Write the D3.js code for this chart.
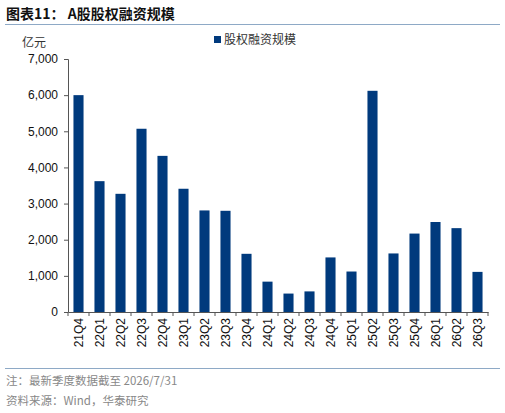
<!DOCTYPE html>
<html><head><meta charset="utf-8">
<script src="https://cdn.jsdelivr.net/npm/d3@7.9.0/dist/d3.min.js"></script>
<style>body{margin:0;background:#fff}svg{display:block}</style>
</head><body><svg id="c" width="505" height="413"></svg>
<script>
const quarters = ["21Q4","22Q1","22Q2","22Q3","22Q4","23Q1","23Q2","23Q3","23Q4","24Q1","24Q2","24Q3","24Q4","25Q1","25Q2","25Q3","25Q4","26Q1","26Q2","26Q3"];
const financing = [6000,3620,3270,5070,4320,3410,2810,2800,1610,840,510,570,1510,1120,6120,1620,2170,2490,2320,1110];
const yTicks = [0,1000,2000,3000,4000,5000,6000,7000];

const svg = d3.select("#c");
const font = "Arial, 'Liberation Sans', 'Noto Sans CJK SC', sans-serif";
const cjk = "'Noto Sans CJK SC', sans-serif";
const blue = "#003a7d";

// title
svg.append("text").attr("x", 6).attr("y", 19).attr("font-family", cjk)
  .attr("font-size", 14).attr("font-weight", "bold").attr("fill", "#111")
  .text("图表11：  A股股权融资规模");
svg.append("line").attr("x1", 5).attr("x2", 500).attr("y1", 24.5).attr("y2", 24.5)
  .attr("stroke", "#8ea9c6").attr("stroke-width", 1);

const x = d3.scaleBand().domain(quarters).range([68, 488]).paddingInner(0.52).paddingOuter(0.26);
const y = d3.scaleLinear().domain([0, 7000]).range([312, 59]);

svg.selectAll("rect.bar").data(financing).join("rect").attr("class", "bar")
  .attr("x", (d, i) => x(quarters[i])).attr("width", x.bandwidth())
  .attr("y", d => y(d)).attr("height", d => y(0) - y(d)).attr("fill", blue);

// y axis
const ya = svg.append("g").attr("transform", "translate(68,0)")
  .call(d3.axisLeft(y).tickValues(yTicks).tickSize(4).tickFormat(d3.format(",")));
ya.selectAll("text").attr("font-family", font).attr("font-size", 12).attr("fill", "#111").attr("dx", -3);
ya.select(".domain").attr("stroke", "#555").attr("d", "M-4,59.5H0.5V312.5");
ya.selectAll(".tick line").attr("stroke", "#555");

// x axis
const xa = svg.append("g").attr("transform", "translate(0,312)")
  .call(d3.axisBottom(x).tickSize(0));
xa.select(".domain").attr("stroke", "#555");
xa.selectAll(".tick").each(function(d, i) {
  d3.select(this).select("text")
    .attr("font-family", font).attr("font-size", 12).attr("fill", "#111")
    .attr("transform", "rotate(-90)").attr("text-anchor", "end")
    .attr("x", -6).attr("y", 0).attr("dy", "0.35em");
});
// tick marks between bands
const edges = quarters.map(q => x(q) - x.step() * x.paddingInner() / 2).concat([488]);
xa.selectAll("line.sep").data(edges).join("line").attr("class", "sep")
  .attr("x1", d => d).attr("x2", d => d).attr("y1", 0).attr("y2", 4).attr("stroke", "#555");

svg.append("text").attr("x", 22).attr("y", 47).attr("font-family", cjk)
  .attr("font-size", 12).attr("fill", "#333").text("亿元");

// legend
svg.append("rect").attr("x", 214).attr("y", 36).attr("width", 7).attr("height", 7).attr("fill", blue);
svg.append("text").attr("x", 224).attr("y", 44).attr("font-family", cjk)
  .attr("font-size", 12).attr("fill", "#333").text("股权融资规模");

// footer
svg.append("line").attr("x1", 5).attr("x2", 500).attr("y1", 368.5).attr("y2", 368.5)
  .attr("stroke", "#8ea9c6");
svg.append("text").attr("x", 6).attr("y", 385).attr("font-family", cjk)
  .attr("font-size", 11.5).attr("fill", "#888").text("注：最新季度数据截至 2026/7/31");
svg.append("text").attr("x", 6).attr("y", 405).attr("font-family", cjk)
  .attr("font-size", 11.5).attr("fill", "#888").text("资料来源：Wind，华泰研究");
</script></body></html>
